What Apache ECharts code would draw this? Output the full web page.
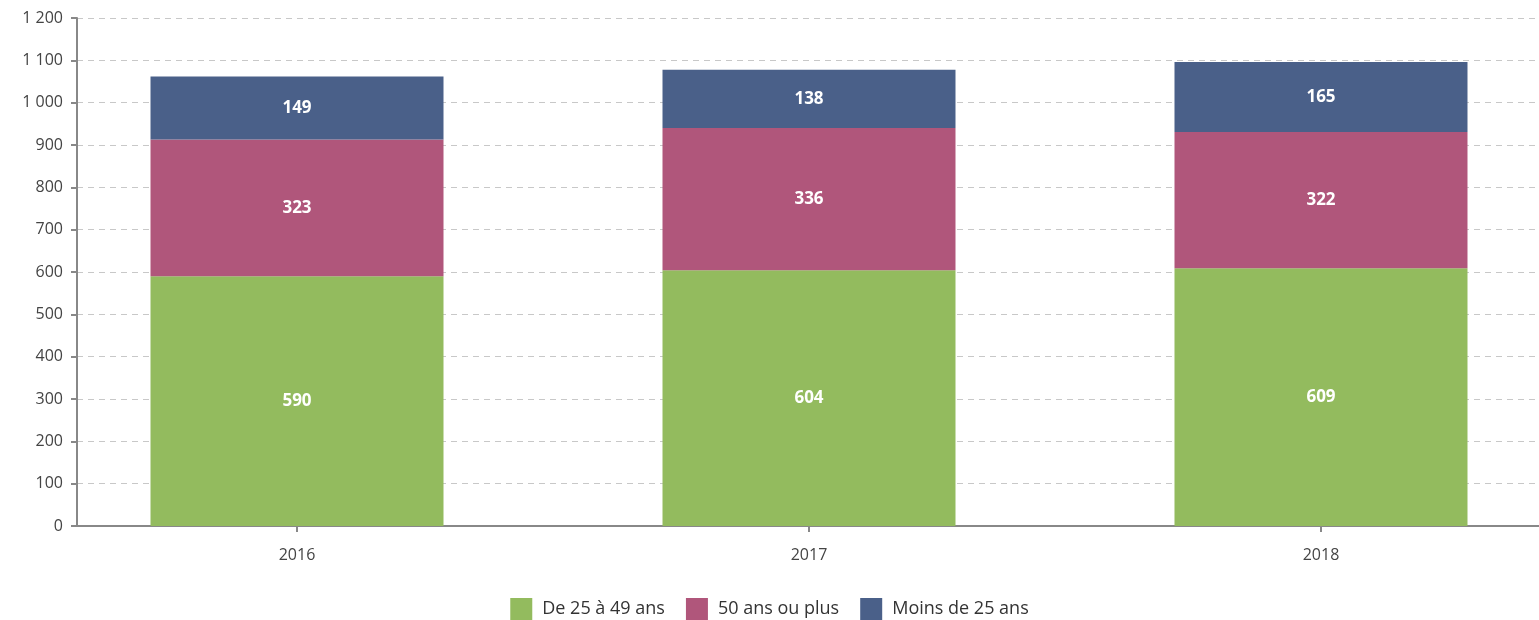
<!DOCTYPE html>
<html>
<head>
<meta charset="utf-8">
<script src="https://cdn.jsdelivr.net/npm/echarts@6/dist/echarts.min.js"></script>
<style>
  html, body { margin: 0; padding: 0; background: #fff; }
  #main { width: 1539px; height: 620px; }
</style>
</head>
<body>
<div id="main"></div>
<script>
// donnees
var years = ["2016", "2017", "2018"];
var de25a49 = [590, 604, 609];
var plus50 = [323, 336, 322];
var moins25 = [149, 138, 165];
var seriesNames = ["De 25 à 49 ans", "50 ans ou plus", "Moins de 25 ans"];
var colors = ["#93bb5e", "#b0567b", "#4a6089"];

var myChart = echarts.init(document.getElementById("main"));

// [valeur, index] : la valeur d'abord pour que l'empilement se fasse sur y
function toPoints(arr) {
  return arr.map(function (v, i) { return [v, i]; });
}

function makeSerie(name, arr) {
  return {
    name: name,
    type: "bar",
    stack: "total",
    barWidth: 293,
    encode: { x: 1, y: 0 },
    data: toPoints(arr),
    label: {
      show: true,
      position: "inside",
      color: "#fff",
      fontFamily: "Open Sans",
      fontWeight: "bold",
      fontSize: 17,
      formatter: function (p) { return p.value[0]; },
    },
  };
}

var option = {
  animation: false,
  color: colors,
  textStyle: { fontFamily: "Open Sans" },
  legend: {
    top: 593,
    left: "center",
    itemWidth: 22,
    itemHeight: 22,
    itemGap: 21,
    icon: "rect",
    textStyle: {
      fontSize: 18,
      color: "#333",
      fontFamily: "Open Sans",
      padding: [0, 0, 0, 5],
    },
  },
  grid: {
    left: 77,
    right: 0,
    top: 18,
    bottom: 94,
  },
  xAxis: {
    type: "value",
    min: -0.4297,
    max: 2.4258,
    splitLine: { show: false },
    axisLine: { show: true, onZero: false, lineStyle: { color: "#888", width: 2 } },
    axisTick: { show: true, customValues: [0, 1, 2], length: 6, lineStyle: { color: "#888", width: 2 } },
    axisLabel: {
      customValues: [0, 1, 2],
      color: "#444",
      fontSize: 16,
      margin: 21,
      formatter: function (v) { return years[Math.round(v)]; },
    },
  },
  yAxis: {
    type: "value",
    min: 0,
    max: 1200,
    interval: 100,
    axisLine: { show: true, onZero: false, lineStyle: { color: "#888", width: 2 } },
    axisTick: { show: true, length: 6, lineStyle: { color: "#888", width: 2 } },
    axisLabel: {
      color: "#444",
      fontSize: 16,
      margin: 14,
      formatter: function (v) {
        return String(v).replace(/\B(?=(\d{3})+(?!\d))/g, " ");
      },
    },
    splitLine: {
      show: true,
      lineStyle: { color: "#c8c8c8", type: [6, 5], width: 1 },
    },
  },
  series: [
    makeSerie(seriesNames[0], de25a49),
    makeSerie(seriesNames[1], plus50),
    makeSerie(seriesNames[2], moins25),
  ],
};
myChart.setOption(option);
</script>
</body>
</html>
